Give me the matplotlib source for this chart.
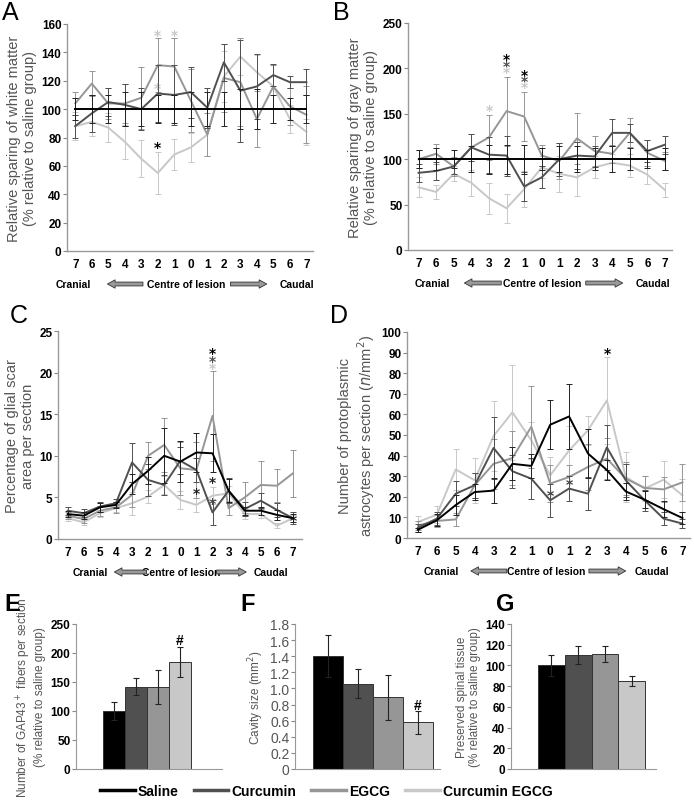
import matplotlib
matplotlib.use("Agg")
import matplotlib.pyplot as plt
import numpy as np

# segment labels along the cord (cranial -> caudal)
segments = ["7", "6", "5", "4", "3", "2", "1", "0", "1", "2", "3", "4", "5", "6", "7"]
groups = ["Saline", "Curcumin", "EGCG", "Curcumin EGCG"]
colors = ["#000000", "#505050", "#969696", "#c8c8c8"]

# A - white matter sparing (% of saline)
wm_saline = [100] * 15
wm_curc = [88, 97, 105, 103, 100, 111, 110, 112, 101, 133, 113, 116, 124, 119, 119]
wm_egcg = [104, 118, 104, 104, 108, 131, 130, 106, 82, 122, 119, 93, 116, 102, 96]
wm_combo = [88, 91, 87, 77, 65, 55, 68, 73, 82, 123, 137, 126, 116, 93, 84]
wm_saline_err = [8, 10, 10, 12, 12, 10, 10, 12, 12, 12, 14, 14, 10, 8, 10]
wm_curc_err = [8, 13, 10, 15, 15, 20, 21, 18, 14, 13, 36, 23, 8, 4, 9]
wm_egcg_err = [8, 9, 11, 14, 22, 19, 20, 22, 15, 24, 31, 20, 15, 13, 20]
wm_combo_err = [10, 10, 10, 12, 13, 15, 11, 10, 15, 18, 13, 12, 15, 10, 9]

# B - gray matter sparing (% of saline)
gm_saline = [100] * 15
gm_curc = [85, 87, 92, 113, 105, 104, 70, 80, 100, 104, 103, 129, 129, 109, 116]
gm_egcg = [100, 106, 92, 113, 124, 153, 147, 104, 98, 123, 109, 106, 129, 107, 98]
gm_combo = [69, 64, 84, 74, 57, 46, 67, 91, 84, 80, 91, 96, 93, 83, 66]
gm_saline_err = [10, 12, 10, 14, 16, 16, 16, 12, 14, 14, 12, 14, 12, 10, 12]
gm_curc_err = [10, 10, 8, 15, 20, 22, 16, 12, 18, 15, 12, 15, 10, 12, 10]
gm_egcg_err = [10, 11, 10, 15, 25, 38, 27, 12, 20, 28, 17, 10, 16, 14, 10]
gm_combo_err = [11, 8, 8, 14, 17, 16, 20, 12, 20, 20, 12, 10, 13, 10, 8]

# C - glial scar area (%)
gs_saline = [3.0, 2.8, 3.8, 4.1, 6.6, 8.2, 10.0, 9.3, 10.4, 10.3, 5.8, 3.4, 3.4, 2.9, 2.5]
gs_curc = [3.4, 3.1, 3.9, 4.3, 9.2, 7.1, 6.5, 9.4, 8.3, 3.2, 5.8, 3.6, 4.6, 3.5, 2.5]
gs_egcg = [2.8, 2.4, 3.4, 3.8, 5.3, 10.0, 11.3, 8.5, 8.3, 14.8, 3.7, 5.0, 6.5, 6.4, 7.9]
gs_combo = [2.5, 2.0, 3.1, 3.7, 4.3, 5.1, 6.5, 4.7, 4.1, 5.2, 5.5, 3.0, 3.0, 1.6, 2.5]
gs_saline_err = [0.4, 0.4, 0.5, 0.4, 1.2, 1.6, 3.3, 2.5, 2.4, 2.3, 1.4, 0.5, 0.5, 0.6, 0.5]
gs_curc_err = [0.5, 0.5, 0.6, 0.5, 2.3, 1.9, 1.2, 1.6, 1.4, 1.5, 1.5, 0.8, 0.9, 0.8, 0.7]
gs_egcg_err = [0.4, 0.5, 0.6, 0.7, 1.5, 1.6, 3.2, 3.2, 3.4, 5.4, 0.8, 1.9, 2.9, 2.0, 2.8]
gs_combo_err = [0.3, 0.3, 0.4, 0.5, 1.4, 0.8, 1.1, 1.1, 0.8, 1.0, 0.9, 0.6, 0.5, 0.3, 0.4]

# D - protoplasmic astrocytes (n/mm2)
pa_saline = [4, 8.6, 16, 22.3, 23, 36, 35, 55, 59, 41, 33, 22.6, 18.6, 14, 9.7]
pa_curc = [5, 9.4, 21.5, 25.6, 43.7, 32.4, 28.8, 18.3, 24, 21.5, 44, 28, 18.3, 9.4, 7]
pa_egcg = [6.1, 8.3, 9, 25.6, 36, 38.8, 54, 26.4, 29.6, 34.5, 38.5, 28.8, 24.3, 23.6, 27]
pa_combo = [7.8, 11.3, 33.3, 28, 49.5, 61, 47.4, 30.4, 42.5, 52.3, 66.8, 29.6, 24, 28.3, 20.7]
pa_saline_err = [1, 3, 5, 4, 6, 8, 6, 12, 16, 12, 5, 4, 4, 4, 3]
pa_curc_err = [2, 3, 6, 6, 15, 8, 10, 8, 6, 8, 11, 8, 5, 3, 2]
pa_egcg_err = [2, 3, 3, 6, 12, 13, 20, 9, 6, 11, 10, 8, 6, 6, 9]
pa_combo_err = [3, 4, 10, 11, 17, 23, 9, 9, 12, 7, 21, 12, 6, 9, 8]

# E, F, G - bar panels
gap43 = [100, 142, 141, 185]
gap43_err = [16, 15, 29, 26]
cavity = [1.40, 1.06, 0.89, 0.58]
cavity_err = [0.26, 0.18, 0.28, 0.14]
preserved = [100, 110, 111, 85]
preserved_err = [10, 9, 8, 5]

W, H = 694, 803
fig = plt.figure(figsize=(W / 100, H / 100), dpi=100)
SANS = "Liberation Sans"
labfont = dict(family=SANS, size=10.5, color="#555555")


def box(l, t, r, b):
    return [l / W, 1 - b / H, (r - l) / W, (b - t) / H]


def line_panel(rect, series, errs, ylim, yticks, ylabel, xlim, letter, stars, cap):
    ax = fig.add_axes(box(*rect))
    x = np.arange(15)
    for i in range(4):
        ax.errorbar(x, series[i], yerr=errs[i], color=colors[i], lw=1.4,
                    ecolor="#222222" if i == 0 else colors[i], elinewidth=0.7,
                    capsize=2, capthick=0.7, zorder=6 if i == 0 else 5 - i)
    ax.set_xlim(*xlim)
    ax.set_ylim(*ylim)
    ax.set_yticks(yticks)
    ax.set_xticks(x)
    ax.set_xticklabels(segments)
    for lab in ax.get_xticklabels() + ax.get_yticklabels():
        lab.set_fontfamily(SANS)
        lab.set_fontweight("bold")
        lab.set_fontsize(8.5)
    ax.tick_params(axis="x", length=0, pad=5)
    ax.tick_params(axis="y", length=3, width=0.8, color="#888888", pad=1)
    for s in ["top", "right"]:
        ax.spines[s].set_visible(False)
    for s in ["left", "bottom"]:
        ax.spines[s].set_color("#999999")
        ax.spines[s].set_linewidth(1)
    ax.set_ylabel(ylabel, **labfont, labelpad=3)
    for (xi, yi, c) in stars:
        ax.text(xi, yi, "*", ha="center", va="center", color=c,
                fontsize=10, fontweight="bold")
    # cranial / caudal guide under the axis
    h = rect[3] - rect[1]
    yc = -33.0 / h
    tr = ax.get_xaxis_transform()
    cf = dict(transform=tr, va="center", fontsize=7.5, fontweight="bold", family=SANS)
    ax.text(cap[0], yc, "Cranial", ha="left", **cf)
    ax.text(cap[3], yc, "Centre of lesion", ha="center", **cf)
    ax.text(cap[6], yc, "Caudal", ha="right", **cf)
    ap = dict(arrowstyle="simple,head_length=0.55,head_width=0.6,tail_width=0.28",
              fc="#999999", ec="#333333", lw=0.6, shrinkA=0, shrinkB=0)
    ax.annotate("", xy=(cap[1], yc), xytext=(cap[2], yc), xycoords=tr,
                textcoords=tr, arrowprops=ap, annotation_clip=False)
    ax.annotate("", xy=(cap[5], yc), xytext=(cap[4], yc), xycoords=tr,
                textcoords=tr, arrowprops=ap, annotation_clip=False)
    fig.text(letter[0] / W, 1 - letter[1] / H, letter[2], fontsize=18,
             ha="left", va="center", family=SANS)
    return ax


line_panel((67, 25, 313, 252), [wm_saline, wm_curc, wm_egcg, wm_combo],
           [wm_saline_err, wm_curc_err, wm_egcg_err, wm_combo_err],
           (0, 160), range(0, 161, 20),
           "Relative sparing of white matter\n(% relative to saline group)",
           (-0.5, 14.4), (2, 13, "A"),
           [(5, 152, "#c8c8c8"), (6, 152, "#c8c8c8"), (5, 115, "#c8c8c8"),
            (5, 73, "#000000")],
           (-1.2, 1.95, 4.1, 6.7, 9.4, 11.6, 14.5))

line_panel((408, 24, 672, 251), [gm_saline, gm_curc, gm_egcg, gm_combo],
           [gm_saline_err, gm_curc_err, gm_egcg_err, gm_combo_err],
           (0, 250), range(0, 251, 50),
           "Relative sparing of gray matter\n(% relative to saline group)",
           (-0.6, 14.4), (333, 13, "B"),
           [(5, 210, "#000000"), (5, 203, "#505050"), (5, 196, "#c8c8c8"),
            (6, 193, "#000000"), (6, 186, "#505050"), (6, 179, "#c8c8c8"),
            (4, 154, "#c8c8c8")],
           (-0.25, 2.6, 4.7, 7.0, 9.5, 11.6, 14.3))

line_panel((58, 332, 302, 540), [gs_saline, gs_curc, gs_egcg, gs_combo],
           [gs_saline_err, gs_curc_err, gs_egcg_err, gs_combo_err],
           (0, 25), range(0, 26, 5),
           "Percentage of glial scar\narea per section",
           (-0.6, 14.56), (10, 316, "C"),
           [(9, 22.3, "#000000"), (9, 21.4, "#505050"), (9, 20.6, "#c8c8c8"),
            (8, 5.5, "#222222"), (9, 6.9, "#222222"), (9, 4.3, "#444444"),
            (14, 2.3, "#222222")],
           (0.3, 2.9, 4.9, 7.05, 9.25, 11.1, 13.7))

line_panel((407, 333, 690, 539), [pa_saline, pa_curc, pa_egcg, pa_combo],
           [pa_saline_err, pa_curc_err, pa_egcg_err, pa_combo_err],
           (0, 100), range(0, 101, 10),
           "Number of protoplasmic\nastrocytes per section ($n$/mm$^2$)",
           (-0.58, 14.4), (330, 316, "D"),
           [(10, 90, "#000000"), (7, 21, "#333333"), (8, 26, "#333333")],
           (0.3, 2.8, 4.7, 6.8, 9.05, 11.0, 13.3))


def bar_panel(rect, vals, errs, ylim, yticks, yticklabels, ylabel, xlim,
              letter, mark, bold=True):
    ax = fig.add_axes(box(*rect))
    x = np.arange(4)
    ax.bar(x, vals, width=1.0, color=colors, edgecolor="#333333", lw=0.7,
           yerr=errs, error_kw=dict(elinewidth=0.8, capsize=2, capthick=0.8,
                                    ecolor="#222222"))
    ax.set_xlim(*xlim)
    ax.set_ylim(*ylim)
    ax.set_yticks(yticks)
    ax.set_yticklabels(yticklabels)
    ax.set_xticks([])
    for lab in ax.get_yticklabels():
        lab.set_fontfamily(SANS)
        if bold:
            lab.set_fontweight("bold")
            lab.set_fontsize(8.5)
        else:
            lab.set_fontsize(10)
            lab.set_color("#555555")
    ax.tick_params(axis="y", length=3, width=0.8, color="#888888", pad=1)
    for s in ["top", "right"]:
        ax.spines[s].set_visible(False)
    for s in ["left", "bottom"]:
        ax.spines[s].set_color("#999999")
    ax.set_ylabel(ylabel, family=SANS, size=8.5, color="#555555", labelpad=3)
    if mark:
        ax.text(mark[0], mark[1], "#", ha="center", va="center",
                fontsize=10, fontweight="bold", family=SANS)
    fig.text(letter[0] / W, 1 - letter[1] / H, letter[2], fontsize=17,
             fontweight="bold", ha="left", va="center", family=SANS)
    return ax


bar_panel((76, 625, 222, 770), gap43, gap43_err, (0, 250), range(0, 251, 50),
          [str(v) for v in range(0, 251, 50)],
          "Number of GAP43$^+$ fibers per section\n(% relative to saline group)",
          (-1.7, 4.9), (4, 605, "E"), (3, 222))

bar_panel((295, 625, 440, 770), cavity, cavity_err, (0, 1.8),
          np.arange(0, 1.81, 0.2),
          ["0", "0.2", "0.4", "0.6", "0.8", "1.0", "1.2", "1.4", "1.6", "1.8"],
          "Cavity size (mm$^2$)", (-1.1, 3.75), (240, 605, "F"), (3, 0.79),
          bold=False)

bar_panel((511, 625, 656, 770), preserved, preserved_err, (0, 140),
          range(0, 141, 20), [str(v) for v in range(0, 141, 20)],
          "Preserved spinal tissue\n(% relative to saline group)",
          (-1.5, 3.9), (496, 605, "G"), None)

handles = [plt.Line2D([], [], color=c, lw=2.5) for c in colors]
fig.legend(handles, groups, loc="center", bbox_to_anchor=(0.47, 1 - 792 / H),
           ncol=4, frameon=False, handlelength=2.5, handletextpad=0.2,
           columnspacing=1.1, prop=dict(family=SANS, weight="bold", size=10))

fig.savefig("out.png", dpi=100)
